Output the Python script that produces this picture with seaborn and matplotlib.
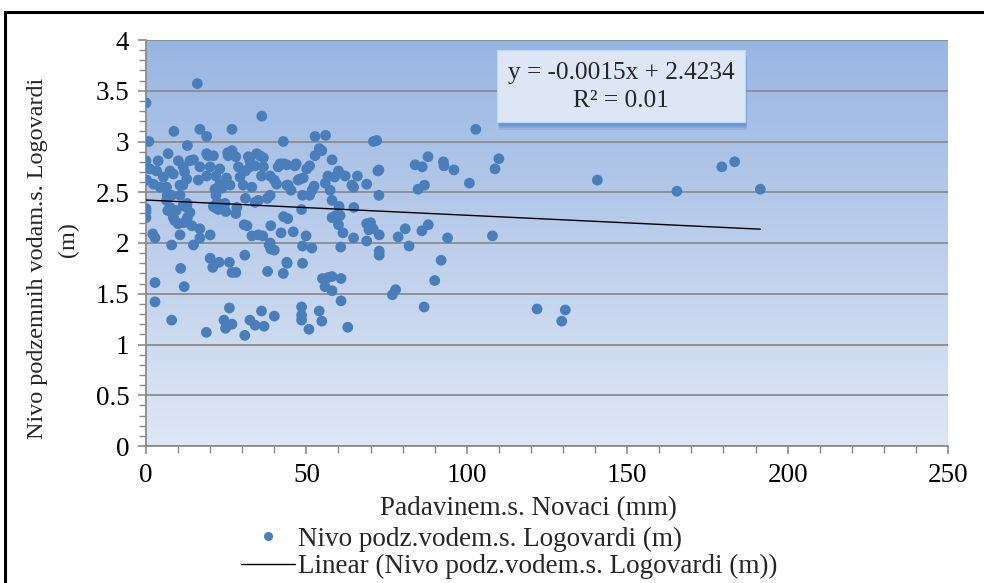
import numpy as np
import pandas as pd
import matplotlib
matplotlib.use("Agg")
import matplotlib.pyplot as plt
import matplotlib.patches as mpatches
from matplotlib.lines import Line2D
import seaborn as sns

# ---------------- data ----------------
rain_mm = [
    16.0, 0, 8.7, 16.8, 18.9, 26.8, 36.1, 0.9, 42.8, 12.9, 6.9,
    52.7, 56, 70.9, 71.9, 54.8, 58, 72.6, 87.9, 83.9, 86.1, 92.7, 92.9, 96, 100.8, 102.8,
    86.8, 84.8, 72.6, 68.8, 64.7, 65.9, 62.1, 60, 58.8, 55.9, 51.8, 48.8, 60.2, 64.8,
    110, 108.8, 140.7, 165.5, 179.5, 183.5, 191.5, 108, 121.9, 130.7, 129.6,
    48.5, 58, 60.5, 60, 68.8, 69.5, 72.7, 64.7, 68.8, 49.9, 48.8, 60.7, 72.7, 72.7,
    80.8, 86, 88, 94, 82, 48.8, 92, 90, 56.8, 58, 60.8, 55.8, 58, 77.8, 76.8, 60.8,
    86.7, 48.5, 48.5, 48.5, 54, 54.8, 50.8, 62.9,
    0, 0, 2.1, 2.8, 8, 6.8, 8.5, 10, 10.6, 12.7, 12.9, 14.8, 16.8, 16.8, 20, 21, 22.5,
    24.9, 28, 28.3, 30.6, 34, 33, 35, 36.4, 38.9, 38.4, 38.9, 42.1, 42.9, 44.2, 45.9,
    30.8, 20, 20.8, 22.8, 26, 26.8, 28, 37.9, 42.8, 43.9, 10.8, 2.8, 11.9, 2.8, 8,
    18.8, 26, 26.8, 24.8, 30.8, 36, 36.8, 40,
    0, 0, 3.8, 10.1, 14.8, 18.9, 21, 25.5, 28, 31.9, 34.5, 36.6, 41.8, 43.9, 46.8, 50.1,
    1.2, 3.3, 7.5, 11.6, 16.8, 20, 23, 28.8, 32.4, 36.6, 41.2, 0.2, 2.3, 5.4, 8.5, 10.6,
    12.7, 16.3, 18.9, 21.8, 23, 25.1, 26.2, 29.3, 30.3, 33, 38.7, 40.7, 43.9, 45.2, 48,
    6.4, 6.6, 6.4, 7.5, 11.6, 21.5, 21.8, 22.2, 21.5, 37.8, 0,
    52.7, 54, 51, 49, 47.4, 9, 11.8, 9.4, 13.7, 14.3, 4.4, 13.7, 12, 31, 31.5, 31, 34,
    35.5, 38.7, 40, 44.3, 43, 51, 52.4, 51.7, 55, 57.4, 58, 59.2, 61.4, 64.2, 24.6, 23.7,
    19.3, 24.3, 40, 38.7, 44, 46.4, 56.7, 72.3, 70, 70.8, 78.6, 32.4, 25.6, 26.8, 36, 35,
    8, 10.6, 11.5, 12.8, 32.4, 34,
]
level_m = [
    3.57, 3.38, 3.10, 3.12, 3.05, 3.12, 3.25, 3.00, 3.00, 2.96, 2.88,
    3.05, 3.06, 3.00, 3.01, 2.91, 2.82, 2.72, 2.85, 2.77, 2.75, 2.80, 2.76, 2.72, 2.59, 3.12,
    2.57, 2.53, 2.47, 2.58, 2.55, 2.66, 2.66, 2.71, 2.65, 2.59, 2.52, 2.47, 2.36, 2.35,
    2.83, 2.73, 2.62, 2.51, 2.75, 2.80, 2.53, 2.07, 1.35, 1.34, 1.23,
    2.33, 2.25, 2.27, 2.18, 2.19, 2.13, 2.08, 2.05, 2.02, 2.07, 1.97, 1.96, 1.92, 1.88,
    2.14, 2.12, 2.18, 2.05, 1.97, 1.80, 1.83, 1.63, 1.66, 1.67, 1.65, 1.57, 1.53, 1.54, 1.49, 1.43,
    1.37, 1.37, 1.29, 1.24, 1.33, 1.23, 1.15, 1.17,
    2.31, 2.25, 2.09, 2.05, 1.98, 2.32, 2.25, 2.19, 2.08, 2.35, 2.25, 1.98, 2.14, 2.05, 2.08, 2.36, 2.33,
    2.31, 2.29, 2.35, 2.18, 2.40, 2.07, 2.08, 2.07, 2.17, 1.98, 1.94, 2.10, 2.26, 2.24, 2.11,
    1.88, 1.85, 1.76, 1.81, 1.81, 1.71, 1.71, 1.72, 1.70, 1.81, 1.75, 1.61, 1.57, 1.42, 1.24,
    1.12, 1.36, 1.20, 1.16, 1.09, 1.33, 1.18, 1.28,
    2.81, 2.75, 2.81, 2.81, 2.82, 2.88, 2.86, 2.89, 2.85, 2.85, 2.88, 2.84, 2.78, 2.77, 2.78, 2.73,
    2.73, 2.71, 2.71, 2.75, 2.75, 2.75, 2.73, 2.75, 2.75, 2.75, 2.75, 2.62, 2.58, 2.65, 2.68, 2.57,
    2.63, 2.62, 2.66, 2.66, 2.58, 2.64, 2.57, 2.65, 2.57, 2.55, 2.66, 2.58, 2.57, 2.52, 2.63,
    2.55, 2.47, 2.42, 2.35, 2.37, 2.53, 2.47, 2.40, 2.35, 2.44, 2.34,
    2.86, 2.93, 2.76, 2.64, 2.62, 2.22, 2.20, 2.32, 2.30, 2.17, 2.55, 2.81, 2.70, 2.44, 2.17, 2.71, 2.76,
    2.86, 2.47, 2.62, 2.57, 2.78, 2.47, 2.56, 1.95, 1.65, 2.52, 2.42, 2.27, 2.10, 2.57, 2.39, 2.54,
    2.86, 1.24, 1.93, 2.00, 1.80, 2.76, 2.66, 2.71, 2.20, 2.14, 2.06, 2.81, 2.86, 2.91, 2.66, 2.42,
    2.47, 2.47, 2.57, 2.39, 1.24, 1.19,
]
trend_slope = -0.0015
trend_intercept = 2.4234
r_squared = 0.01

x_label = "Padavinem.s. Novaci (mm)"
y_label = "Nivo podzemnih vodam.s. Logovardi"
y_label2 = "(m)"
series_label = "Nivo podz.vodem.s. Logovardi (m)"
trend_label = "Linear (Nivo podz.vodem.s. Logovardi (m))"
x_ticks = [0, 50, 100, 150, 200, 250]
y_ticks = [0, 0.5, 1, 1.5, 2, 2.5, 3, 3.5, 4]
y_tick_labels = ["0", "0.5", "1", "1.5", "2", "2.5", "3", "3.5", "4"]

df = pd.DataFrame({"x": rain_mm, "y": level_m})
trend_x = [0, max(rain_mm)]
trend_df = pd.DataFrame({"x": trend_x,
                         "y": [trend_slope * v + trend_intercept for v in trend_x]})

# ---------------- style ----------------
sns.set_theme(style="white")
plt.rcParams["font.family"] = ["Liberation Serif", "DejaVu Serif"]
FS = 19.5
FS_Y = 17.4
FS_EQ = 18.2

W, H = 984, 583
fig = plt.figure(figsize=(W / 100, H / 100), dpi=100)
fig.patch.set_facecolor("white")

def fx(px):
    return px / W

def fy(py):
    return 1 - py / H

ax = fig.add_axes([fx(146), fy(446), fx(948) - fx(146), fy(40) - fy(446)])
ax.set_xlim(0, 250)
ax.set_ylim(0, 4)

# gradient plot-area background
grad = np.linspace(0, 1, 256).reshape(-1, 1)
top = np.array([0x98, 0xb5, 0xe2]) / 255
bot = np.array([0xdf, 0xe7, 0xf5]) / 255
img = top[None, None, :] * (1 - grad[:, :, None]) + bot[None, None, :] * grad[:, :, None]
ax.imshow(img, extent=[0, 250, 0, 4], aspect="auto", origin="upper", zorder=0)

for v in y_ticks:
    ax.axhline(v, color="#8c8c8c", lw=1.3, zorder=1)

sns.scatterplot(data=df, x="x", y="y", ax=ax, color="#4a7ebb", s=60,
                edgecolor="none", zorder=3, legend=False)
sns.lineplot(data=trend_df, x="x", y="y", ax=ax, color="black", lw=1.0,
             zorder=4, legend=False)

ax.set_xticks(x_ticks)
ax.set_yticks(y_ticks)
ax.set_xticks(np.arange(0, 251, 10), minor=True)
ax.set_yticks(np.arange(0, 4.01, 0.1), minor=True)
ax.set_yticklabels(y_tick_labels)
ax.tick_params(axis="both", which="both", direction="out", color="#8c8c8c",
               labelsize=FS, labelcolor="black")
ax.tick_params(which="major", length=6, width=1.2)
ax.tick_params(which="minor", length=5, width=1.0)
ax.tick_params(axis="x", which="both", bottom=True, pad=6)
ax.tick_params(axis="y", which="both", left=True, pad=6)
for s in ["top", "right"]:
    ax.spines[s].set_visible(False)
for s in ["left", "bottom"]:
    ax.spines[s].set_color("#8c8c8c")
    ax.spines[s].set_linewidth(1.3)
ax.set_xlabel("")
ax.set_ylabel("")

fig.text(fx(528), fy(509), x_label, ha="center", va="center", fontsize=FS)
fig.text(fx(38), fy(258), y_label, ha="center", va="center", rotation=90, fontsize=FS_Y)
fig.text(fx(68), fy(240), y_label2, ha="center", va="center", rotation=90, fontsize=FS_Y)

# equation box with shadow
for i, a in enumerate([0.18, 0.28, 0.4]):
    off = 8 - 2 * i
    fig.patches.append(mpatches.Rectangle(
        (fx(497 + off * 0.3), fy(122 + off)), fx(248), fy(50) - fy(122),
        transform=fig.transFigure, facecolor="#4a80d0", edgecolor="none",
        alpha=a, zorder=5))
fig.patches.append(mpatches.Rectangle(
    (fx(497), fy(122)), fx(248), fy(50) - fy(122), transform=fig.transFigure,
    facecolor="#dce6f4", edgecolor="#c6d5ec", lw=0.8, zorder=6))
fig.text(fx(621), fy(73), f"y = {trend_slope}x + {trend_intercept}", ha="center",
         va="center", fontsize=FS_EQ, zorder=7)
fig.text(fx(621), fy(101), f"R² = {r_squared}", ha="center", va="center",
         fontsize=FS_EQ, zorder=7)

# legend
handles = [
    Line2D([], [], marker="o", color="#4a7ebb", linestyle="none", markersize=5.5),
    Line2D([], [], color="black", lw=1.0),
]
fig.legend(handles, [series_label, trend_label], loc="center left",
           bbox_to_anchor=(fx(241), fy(553)), frameon=False, fontsize=FS,
           handlelength=2.0, handletextpad=0.12, labelspacing=0.08,
           borderpad=0, borderaxespad=0, markerfirst=True)

# outer chart frame
fig.patches.append(mpatches.Rectangle(
    (fx(5), -0.1), 1.2, fy(12) + 0.1, transform=fig.transFigure,
    facecolor="none", edgecolor="black", lw=2.2, zorder=10))

fig.savefig("out.png", dpi=100)
